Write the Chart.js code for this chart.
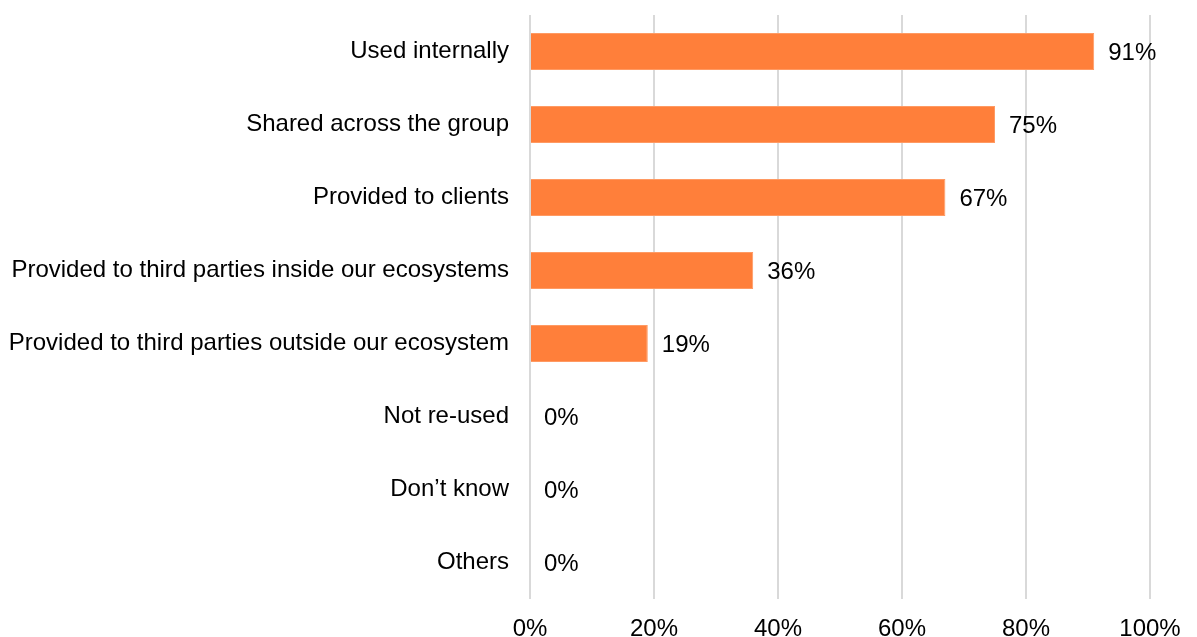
<!DOCTYPE html>
<html lang="en">
<head>
  <meta charset="UTF-8">
  <title>Data re-use</title>
  <script src="https://cdn.jsdelivr.net/npm/chart.js"></script>
  <style>
    body {
      margin: 0;
      background: #fff;
    }
    canvas {
      display: block;
    }
  </style>
</head>
<body>
  <canvas id="reuseChart" width="1197" height="637"></canvas>

  <script>
    const categories = [
      "Used internally",
      "Shared across the group",
      "Provided to clients",
      "Provided to third parties inside our ecosystems",
      "Provided to third parties outside our ecosystem",
      "Not re-used",
      "Don\u2019t know",
      "Others"
    ];
    const shares = [91, 75, 67, 36, 19, 0, 0, 0];
    const xTicks = [0, 20, 40, 60, 80, 100];

    const FONT = 'Arial, "Liberation Sans", sans-serif';

    // writes "NN%" just past the end of each bar
    const valueLabels = {
      id: "valueLabels",
      afterDatasetsDraw(chart) {
        const ctx = chart.ctx;
        const meta = chart.getDatasetMeta(0);
        ctx.save();
        ctx.font = "24px " + FONT;
        ctx.fillStyle = "#000";
        ctx.textAlign = "left";
        ctx.textBaseline = "middle";
        meta.data.forEach((bar, i) => {
          ctx.fillText(shares[i] + "%", bar.x + 14, bar.y + 2);
        });
        ctx.restore();
      }
    };

    new Chart(document.getElementById("reuseChart"), {
      type: "bar",
      data: {
        labels: categories,
        datasets: [{
          data: shares,
          backgroundColor: "#FF7F3A",
          borderColor: "#FF9A63",
          borderWidth: 1,
          categoryPercentage: 1,
          barPercentage: 0.51
        }]
      },
      options: {
        indexAxis: "y",
        responsive: false,
        animation: false,
        layout: {
          padding: { top: 15, right: 47, bottom: 0, left: 0 }
        },
        plugins: {
          legend: { display: false },
          tooltip: { enabled: false }
        },
        scales: {
          x: {
            min: 0,
            max: 100,
            afterBuildTicks(scale) {
              scale.ticks = xTicks.map(v => ({ value: v }));
            },
            afterFit(scale) {
              scale.height = 38;
            },
            grid: {
              color: "#d9d9d9",
              lineWidth: 2,
              drawTicks: false
            },
            border: { display: false },
            ticks: {
              padding: 16,
              color: "#000",
              font: { family: FONT, size: 24 },
              callback: v => v + "%"
            }
          },
          y: {
            afterFit(scale) {
              scale.width = 530;
              scale.paddingTop = 0;
              scale.paddingBottom = 0;
            },
            grid: { display: false, drawTicks: false },
            border: { display: false },
            ticks: {
              padding: 21,
              color: "#000",
              font: { family: FONT, size: 24 }
            }
          }
        }
      },
      plugins: [valueLabels]
    });
  </script>
</body>
</html>
